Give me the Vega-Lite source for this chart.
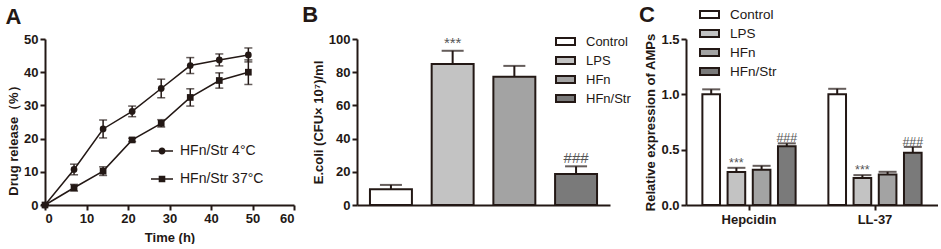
{
  "$schema": "https://vega.github.io/schema/vega-lite/v6.json",
  "padding": {"left": 5, "top": 4, "right": 0, "bottom": 0},
  "spacing": 7,
  "resolve": {"scale": {"fill": "independent", "shape": "independent", "x": "independent", "y": "independent"}, "legend": {"fill": "independent", "shape": "independent"}},
  "config": {
    "font": "Liberation Sans",
    "view": {"stroke": null},
    "axis": {"domainColor": "#231815", "domainWidth": 2, "tickColor": "#231815", "tickWidth": 2, "tickSize": 5, "labelFont": "Liberation Sans", "labelFontWeight": "bold", "labelFontSize": 13, "labelColor": "#231815", "labelPadding": 2, "titleFont": "Liberation Sans", "titleFontSize": 13, "titleFontWeight": "bold", "titleColor": "#231815", "titlePadding": 3, "grid": false},
    "legend": {"labelFont": "Liberation Sans", "labelFontSize": 13, "labelColor": "#231815"},
    "title": {"font": "Liberation Sans", "fontSize": 22, "fontWeight": "bold", "anchor": "start", "frame": "bounds", "color": "#231815"}
  },
  "hconcat": [
    {
      "width": 249, "height": 166,
      "title": {"text": "A", "dx": -2, "offset": 4},
      "data": {"values": [
        {"t": 0, "series": "HFn/Str 4°C", "v": 0, "lo": 0, "hi": 0},
        {"t": 7, "series": "HFn/Str 4°C", "v": 10.7, "lo": 9.1, "hi": 12.3},
        {"t": 14, "series": "HFn/Str 4°C", "v": 22.9, "lo": 20.2, "hi": 25.6},
        {"t": 21, "series": "HFn/Str 4°C", "v": 28.2, "lo": 26.6, "hi": 29.8},
        {"t": 28, "series": "HFn/Str 4°C", "v": 35.1, "lo": 32.3, "hi": 37.9},
        {"t": 35, "series": "HFn/Str 4°C", "v": 42.0, "lo": 39.6, "hi": 44.4},
        {"t": 42, "series": "HFn/Str 4°C", "v": 43.7, "lo": 41.9, "hi": 45.5},
        {"t": 49, "series": "HFn/Str 4°C", "v": 45.2, "lo": 43.1, "hi": 47.3},
        {"t": 0, "series": "HFn/Str 37°C", "v": 0, "lo": 0, "hi": 0},
        {"t": 7, "series": "HFn/Str 37°C", "v": 5.2, "lo": 4.2, "hi": 6.2},
        {"t": 14, "series": "HFn/Str 37°C", "v": 10.2, "lo": 8.9, "hi": 11.5},
        {"t": 21, "series": "HFn/Str 37°C", "v": 19.6, "lo": 19.1, "hi": 20.1},
        {"t": 28, "series": "HFn/Str 37°C", "v": 24.6, "lo": 23.5, "hi": 25.7},
        {"t": 35, "series": "HFn/Str 37°C", "v": 32.4, "lo": 29.8, "hi": 35.0},
        {"t": 42, "series": "HFn/Str 37°C", "v": 37.5, "lo": 35.2, "hi": 39.8},
        {"t": 49, "series": "HFn/Str 37°C", "v": 40.0, "lo": 36.3, "hi": 43.7}
      ]},
      "layer": [
        {
          "mark": {"type": "line", "color": "#231815", "strokeWidth": 1.5},
          "encoding": {
            "x": {"field": "t", "type": "quantitative", "scale": {"domain": [0, 60], "nice": false}, "axis": {"values": [0, 10, 20, 30, 40, 50, 60], "titlePadding": 6}, "title": "Time (h)"},
            "y": {"field": "v", "type": "quantitative", "scale": {"domain": [0, 50], "nice": false}, "axis": {"values": [0, 10, 20, 30, 40, 50], "titleY": 98}, "title": "Drug release（%）"},
            "detail": {"field": "series", "type": "nominal"}
          }
        },
        {
          "mark": {"type": "errorbar", "ticks": {"size": 8}, "thickness": 1.5, "color": "#231815"},
          "encoding": {
            "x": {"field": "t", "type": "quantitative", "axis": {"values": [0, 10, 20, 30, 40, 50, 60], "titlePadding": 6}, "title": "Time (h)"},
            "y": {"field": "lo", "type": "quantitative", "axis": {"values": [0, 10, 20, 30, 40, 50], "titleY": 98}, "title": "Drug release（%）"},
            "y2": {"field": "hi"},
            "detail": {"field": "series", "type": "nominal"}
          }
        },
        {
          "mark": {"type": "point", "filled": true, "opacity": 1, "color": "#231815", "size": 45},
          "encoding": {
            "x": {"field": "t", "type": "quantitative", "axis": {"values": [0, 10, 20, 30, 40, 50, 60], "titlePadding": 6}, "title": "Time (h)"},
            "y": {"field": "v", "type": "quantitative", "axis": {"values": [0, 10, 20, 30, 40, 50], "titleY": 98}, "title": "Drug release（%）"},
            "shape": {"field": "series", "type": "nominal", "scale": {"domain": ["HFn/Str 4°C", "HFn/Str 37°C"], "range": ["circle", "square"]}, "legend": null}
          }
        },
        {
          "transform": [{"filter": "datum.t < 0"}],
          "mark": {"type": "point", "filled": true, "color": "#231815"},
          "encoding": {
            "x": {"field": "t", "type": "quantitative", "axis": {"values": [0, 10, 20, 30, 40, 50, 60], "titlePadding": 6}, "title": "Time (h)"},
            "y": {"field": "v", "type": "quantitative", "axis": {"values": [0, 10, 20, 30, 40, 50], "titleY": 98}, "title": "Drug release（%）"},
            "shape": {"field": "series", "type": "nominal",
              "scale": {"domain": ["HFn/Str 4°C", "HFn/Str 37°C"], "range": ["M-1,-0.07H1V0.07H-1Z M0.32,0A0.32,0.32 0 1,1 -0.32,0A0.32,0.32 0 1,1 0.32,0Z", "M-1,-0.07H1V0.07H-1Z M-0.3,-0.3H0.3V0.3H-0.3Z"]},
              "legend": {"title": null, "orient": "none", "legendX": 106, "legendY": 101, "symbolSize": 484, "symbolFillColor": "#231815", "symbolStrokeWidth": 0, "symbolOpacity": 1, "labelFontSize": 14, "labelOffset": 7, "rowPadding": 10}}
          }
        }
      ],
      "resolve": {"scale": {"shape": "independent"}}
    },
    {
      "width": 253, "height": 166,
      "title": {"text": "B", "dx": -10, "offset": 4},
      "data": {"values": [
        {"g": "Control", "v": 9.5, "hi": 12.1, "lab": ""},
        {"g": "LPS", "v": 85.0, "hi": 92.9, "lab": "***"},
        {"g": "HFn", "v": 77.3, "hi": 83.8, "lab": ""},
        {"g": "HFn/Str", "v": 18.6, "hi": 23.3, "lab": "###"}
      ]},
      "encoding": {
        "x": {"field": "g", "type": "nominal", "sort": null, "scale": {"paddingInner": 0.32, "paddingOuter": 0.21}, "axis": {"labels": false, "ticks": false, "title": null}}
      },
      "layer": [
        {
          "mark": {"type": "rule", "color": "#231815", "strokeWidth": 2},
          "encoding": {"y": {"field": "v", "type": "quantitative", "axis": {"values": [0, 20, 40, 60, 80, 100]}, "title": "E.coli (CFU× 10⁷)/ml"}, "y2": {"field": "hi"}}
        },
        {
          "mark": {"type": "tick", "color": "#231815", "thickness": 2, "size": 22},
          "encoding": {"y": {"field": "hi", "type": "quantitative", "axis": {"values": [0, 20, 40, 60, 80, 100]}, "title": "E.coli (CFU× 10⁷)/ml"}}
        },
        {
          "mark": {"type": "bar", "stroke": "#231815", "strokeWidth": 2},
          "encoding": {
            "y": {"field": "v", "type": "quantitative", "scale": {"domain": [0, 100], "nice": false}, "axis": {"values": [0, 20, 40, 60, 80, 100]}, "title": "E.coli (CFU× 10⁷)/ml"},
            "fill": {"field": "g", "type": "nominal", "scale": {"domain": ["Control", "LPS", "HFn", "HFn/Str"], "range": ["#ffffff", "#c3c3c3", "#a3a3a3", "#7a7a7a"]},
              "legend": {"title": null, "orient": "none", "legendX": 198, "legendY": -8, "padding": 0, "symbolType": "M-1,-0.37H1V0.37H-1Z", "symbolSize": 361, "symbolStrokeColor": "#231815", "symbolStrokeWidth": 2, "labelOffset": 10, "rowPadding": 0, "labelFontSize": 13}}
          }
        },
        {
          "mark": {"type": "text", "baseline": "alphabetic", "dy": -3, "fontSize": 15, "color": "#555555"},
          "encoding": {"y": {"field": "hi", "type": "quantitative", "axis": {"values": [0, 20, 40, 60, 80, 100]}, "title": "E.coli (CFU× 10⁷)/ml"}, "text": {"field": "lab"}}
        }
      ]
    },
    {
      "width": 252, "height": 166,
      "title": {"text": "C", "dx": -6, "offset": -23},
      "data": {"values": [
        {"cat": "Hepcidin", "g": "Control", "v": 1.0, "hi": 1.045, "lab": ""},
        {"cat": "Hepcidin", "g": "LPS", "v": 0.298, "hi": 0.336, "lab": "***"},
        {"cat": "Hepcidin", "g": "HFn", "v": 0.318, "hi": 0.354, "lab": ""},
        {"cat": "Hepcidin", "g": "HFn/Str", "v": 0.532, "hi": 0.557, "lab": "###"},
        {"cat": "LL-37", "g": "Control", "v": 1.0, "hi": 1.05, "lab": ""},
        {"cat": "LL-37", "g": "LPS", "v": 0.243, "hi": 0.27, "lab": "***"},
        {"cat": "LL-37", "g": "HFn", "v": 0.276, "hi": 0.3, "lab": ""},
        {"cat": "LL-37", "g": "HFn/Str", "v": 0.472, "hi": 0.525, "lab": "###"}
      ]},
      "encoding": {
        "x": {"field": "cat", "type": "nominal", "sort": null, "scale": {"paddingInner": 0.2, "paddingOuter": 0.1}, "axis": {"labelAngle": 0, "title": null, "labelPadding": 3}},
        "xOffset": {"field": "g", "type": "nominal", "sort": ["Control", "LPS", "HFn", "HFn/Str"], "scale": {"paddingInner": 0.3, "paddingOuter": 0.15}}
      },
      "layer": [
        {
          "mark": {"type": "rule", "color": "#231815", "strokeWidth": 2},
          "encoding": {"y": {"field": "v", "type": "quantitative", "axis": {"values": [0, 0.5, 1, 1.5], "format": ".1f"}, "title": "Relative expression of AMPs"}, "y2": {"field": "hi"}}
        },
        {
          "mark": {"type": "tick", "color": "#231815", "thickness": 2, "size": 18},
          "encoding": {"y": {"field": "hi", "type": "quantitative", "axis": {"values": [0, 0.5, 1, 1.5], "format": ".1f"}, "title": "Relative expression of AMPs"}}
        },
        {
          "mark": {"type": "bar", "stroke": "#231815", "strokeWidth": 2},
          "encoding": {
            "y": {"field": "v", "type": "quantitative", "scale": {"domain": [0, 1.5], "nice": false}, "axis": {"values": [0, 0.5, 1, 1.5], "format": ".1f"}, "title": "Relative expression of AMPs"},
            "fill": {"field": "g", "type": "nominal", "scale": {"domain": ["Control", "LPS", "HFn", "HFn/Str"], "range": ["#ffffff", "#c3c3c3", "#a3a3a3", "#7a7a7a"]},
              "legend": {"title": null, "orient": "none", "legendX": 13, "legendY": -35, "symbolType": "M-1,-0.37H1V0.37H-1Z", "symbolSize": 361, "symbolStrokeColor": "#231815", "symbolStrokeWidth": 2, "labelOffset": 10, "rowPadding": 0, "labelFontSize": 13.5}}
          }
        },
        {
          "mark": {"type": "text", "baseline": "alphabetic", "dy": -1, "fontSize": 12.5, "color": "#555555"},
          "encoding": {"y": {"field": "hi", "type": "quantitative", "axis": {"values": [0, 0.5, 1, 1.5], "format": ".1f"}, "title": "Relative expression of AMPs"}, "text": {"field": "lab"}}
        }
      ]
    }
  ]
}
